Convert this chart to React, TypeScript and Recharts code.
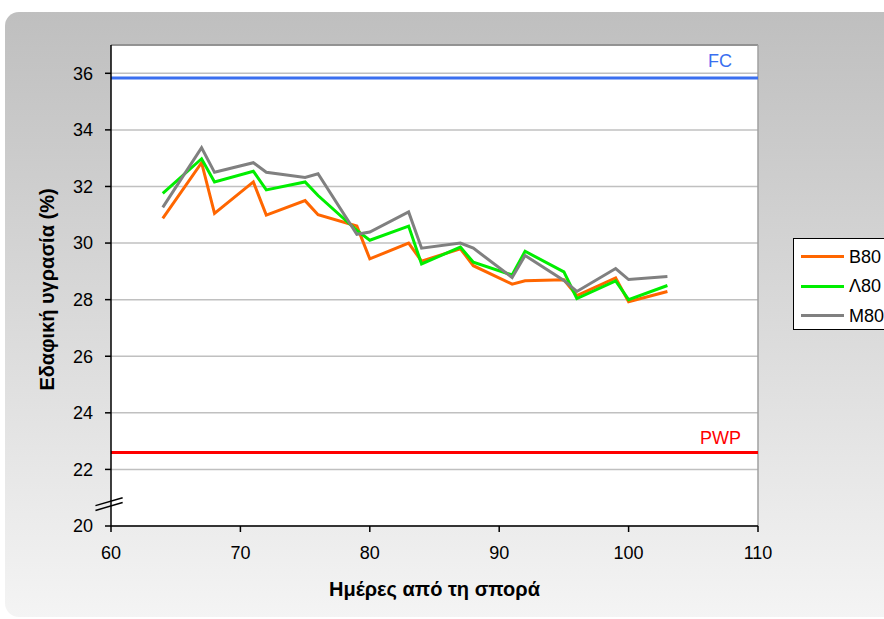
import React from 'react';
import {
  LineChart, Line, XAxis, YAxis, CartesianGrid, ReferenceLine, Legend,
} from 'recharts';

const days = [64, 67, 68, 71, 72, 75, 76, 79, 80, 83, 84, 87, 88, 91, 92, 95, 96, 99, 100, 103];
const b80 = [30.87, 32.84, 31.05, 32.16, 30.99, 31.5, 31.0, 30.6, 29.44, 30.0, 29.36, 29.8, 29.2, 28.55, 28.67, 28.7, 28.14, 28.77, 27.93, 28.29];
const l80 = [31.76, 32.98, 32.16, 32.54, 31.88, 32.16, 31.68, 30.45, 30.1, 30.6, 29.26, 29.86, 29.32, 28.87, 29.71, 28.98, 28.04, 28.66, 28.0, 28.5];
const m80 = [31.26, 33.37, 32.5, 32.84, 32.5, 32.32, 32.45, 30.31, 30.39, 31.1, 29.82, 30.0, 29.82, 28.78, 29.56, 28.68, 28.29, 29.1, 28.71, 28.82];

const seriesNames = ['B80', 'Λ80', 'M80'];
const seriesColors = ['#ff6600', '#00ee00', '#808080'];

const fcValue = 35.83;
const pwpValue = 22.6;

const xTicks = [60, 70, 80, 90, 100, 110];
const yTicks = [20, 22, 24, 26, 28, 30, 32, 34, 36];

const data = days.map((d, i) => ({ day: d, B80: b80[i], L80: l80[i], M80: m80[i] }));
const seriesKeys = ['B80', 'L80', 'M80'];

const FONT = '"Liberation Sans", Arial, sans-serif';

const LegendBox = (props: any) => {
  const payload = [...(props.payload || [])].sort(
    (a: any, b: any) => seriesNames.indexOf(a.value) - seriesNames.indexOf(b.value),
  );
  return (
    <div style={{ width: 95, height: 92, boxSizing: 'border-box', border: '1px solid #000', background: '#fff', paddingTop: 3, fontFamily: FONT }}>
      {payload.map((p: any, i: number) => (
        <div key={i} style={{ display: 'flex', alignItems: 'center', height: 29.5 }}>
          <div style={{ marginLeft: 7, width: 43, height: 3, background: p.color }} />
          <span style={{ marginLeft: 5, fontSize: 18, color: '#000', lineHeight: '20px' }}>{p.value}</span>
        </div>
      ))}
    </div>
  );
};

export default function App() {
  return (
    <div style={{ position: 'absolute', left: 0, top: 0, width: 884, height: 619, overflow: 'hidden', background: '#fff', fontFamily: FONT }}>
      <div style={{ position: 'absolute', left: 5, top: 12, width: 920, height: 605, borderRadius: 14, background: 'linear-gradient(#bfbfbf, #c4c4c4 10%, #f4f4f4)' }} />
      <div style={{ position: 'absolute', left: 0, top: 0 }}>
        <LineChart width={884} height={619} data={data} margin={{ top: 45, right: 126, bottom: 18, left: 51 }}>
          <CartesianGrid vertical={false} stroke="#c0c0c0" strokeWidth={1.5} fill="#ffffff" />
          <XAxis
            dataKey="day" type="number" domain={[60, 110]} ticks={xTicks}
            stroke="#000" strokeWidth={1.5} tickSize={6} tickMargin={14} height={75}
            tick={{ fill: '#000', fontSize: 18 }}
            label={{
              content: (p: any) => {
                const vb = p.viewBox || { x: 111, y: 526, width: 647, height: 75 };
                return (
                  <text x={vb.x + vb.width / 2} y={589} textAnchor="middle" dominantBaseline="central" fill="#000" fontSize={20} fontWeight="bold">
                    Ημέρες από τη σπορά
                  </text>
                );
              },
            }}
          />
          <YAxis
            type="number" domain={[20, 37]} ticks={yTicks} allowDataOverflow
            stroke="#000" strokeWidth={1.5} tickSize={6} tickMargin={12} width={60}
            tick={{ fill: '#000', fontSize: 18 }}
            label={{
              content: (p: any) => {
                const vb = p.viewBox || { x: 51, y: 45, width: 60, height: 481 };
                const cx = vb.x + vb.width - 64;
                const cy = vb.y + vb.height / 2 + 4;
                return (
                  <text x={cx} y={cy} transform={`rotate(-90 ${cx} ${cy})`} textAnchor="middle" dominantBaseline="central" fill="#000" fontSize={20} fontWeight="bold">
                    Εδαφική υγρασία (%)
                  </text>
                );
              },
            }}
          />
          <ReferenceLine y={37} stroke="#808080" strokeWidth={1.5} />
          <ReferenceLine x={110} stroke="#a0a0a0" strokeWidth={1.5} />
          <ReferenceLine
            y={fcValue} stroke="#3a6ff0" strokeWidth={3}
            label={{
              content: (p: any) => {
                const vb = p.viewBox;
                return <text x={vb.x + vb.width - 26} y={vb.y - 11} textAnchor="end" fill="#3a6ff0" fontSize={18}>FC</text>;
              },
            }}
          />
          <ReferenceLine
            y={pwpValue} stroke="#ff0000" strokeWidth={3}
            label={{
              content: (p: any) => {
                const vb = p.viewBox;
                return <text x={vb.x + vb.width - 17} y={vb.y - 8} textAnchor="end" fill="#ff0000" fontSize={18}>PWP</text>;
              },
            }}
          />
          <ReferenceLine segment={[{ x: 58.8, y: 20.72 }, { x: 60.9, y: 21.0 }]} stroke="#000" strokeWidth={1.5} ifOverflow="visible" />
          <ReferenceLine segment={[{ x: 58.8, y: 20.55 }, { x: 60.9, y: 20.83 }]} stroke="#000" strokeWidth={1.5} ifOverflow="visible" />
          {seriesKeys.map((k, i) => (
            <Line key={k} dataKey={k} name={seriesNames[i]} stroke={seriesColors[i]} strokeWidth={3} dot={false} type="linear" isAnimationActive={false} />
          ))}
          <Legend
            layout="vertical" align="center" verticalAlign="middle"
            wrapperStyle={{ position: 'absolute', left: 793, top: 238, width: 95, height: 92 }}
            content={(p: any) => <LegendBox payload={p.payload} />}
          />
        </LineChart>
      </div>
    </div>
  );
}
